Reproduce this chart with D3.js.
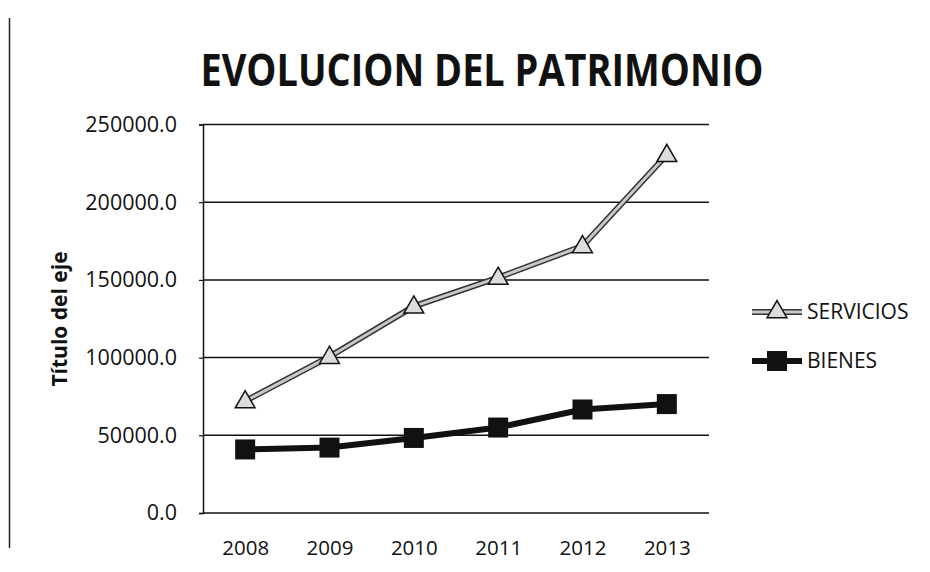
<!DOCTYPE html>
<html><head><meta charset="utf-8">
<script src="https://cdn.jsdelivr.net/npm/d3@7/dist/d3.min.js"></script>
<style>body{margin:0;background:#fff}svg{display:block}</style>
</head><body>
<svg id="c" width="930" height="572"></svg>
<script>
const years = ["2008","2009","2010","2011","2012","2013"];
const servicios = [72000, 100600, 133000, 151500, 171800, 230500];
const bienes = [40900, 42100, 48300, 55000, 66600, 70100];
const yTicks = [0, 50000, 100000, 150000, 200000, 250000];
const seriesNames = ["SERVICIOS", "BIENES"];
const titleText = "EVOLUCION DEL PATRIMONIO";
const axisTitle = "Título del eje";

const svg = d3.select("#c");
const font = "'Open Sans', 'Liberation Sans', sans-serif";
const m = {left: 203, right: 709, top: 124.5, bottom: 513};

const x = d3.scalePoint().domain(years).range([m.left, m.right]).padding(0.5);
const y = d3.scaleLinear().domain([0, 250000]).range([m.bottom, m.top]);

// left border line
svg.append("line").attr("x1", 9.5).attr("x2", 9.5).attr("y1", 18).attr("y2", 548)
  .attr("stroke", "#222").attr("stroke-width", 1.5);

// title
svg.append("text").attr("x", 482).attr("y", 86).attr("text-anchor", "middle")
  .attr("font-family", font).attr("font-weight", "bold").attr("font-size", 44)
  .attr("textLength", 563).attr("lengthAdjust", "spacingAndGlyphs")
  .attr("fill", "#111").text(titleText);

// gridlines
svg.append("g").selectAll("line").data(yTicks.filter(d => d > 0)).join("line")
  .attr("x1", m.left).attr("x2", m.right)
  .attr("y1", d => y(d)).attr("y2", d => y(d))
  .attr("stroke", "#111").attr("stroke-width", 1.5);

// y axis
const yAxis = svg.append("g").attr("transform", `translate(${m.left},0)`)
  .call(d3.axisLeft(y).tickValues(yTicks).tickFormat(d3.format(".1f")).tickSize(4).tickPadding(22));
yAxis.select(".domain").attr("stroke", "#111").attr("stroke-width", 1.5);
yAxis.selectAll(".tick line").attr("stroke", "#111").attr("stroke-width", 1.2);
yAxis.selectAll("text").attr("font-family", font).attr("font-size", 21.5).attr("fill", "#111");

// x axis
const xAxis = svg.append("g").attr("transform", `translate(0,${m.bottom})`)
  .call(d3.axisBottom(x).tickSize(0).tickPadding(27));
xAxis.select(".domain").attr("d", `M${m.left},0H${m.right}`).attr("stroke", "#111").attr("stroke-width", 1.5);
xAxis.selectAll("text").attr("font-family", font).attr("font-size", 20.5).attr("fill", "#111");

// axis title
svg.append("text").attr("transform", "translate(67,319) rotate(-90)")
  .attr("text-anchor", "middle").attr("font-family", font).attr("font-weight", "bold")
  .attr("font-size", 21).attr("fill", "#111").text(axisTitle);

const line = d3.line().x((d, i) => x(years[i])).y(d => y(d));

// SERVICIOS
svg.append("path").datum(servicios).attr("d", line).attr("fill", "none")
  .attr("stroke", "#333").attr("stroke-width", 6);
svg.append("path").datum(servicios).attr("d", line).attr("fill", "none")
  .attr("stroke", "#c8c8c8").attr("stroke-width", 3);
const tri = d3.symbol().type(d3.symbolTriangle).size(170);
svg.append("g").selectAll("path").data(servicios).join("path")
  .attr("d", tri).attr("transform", (d, i) => `translate(${x(years[i])},${y(d) + 1})`)
  .attr("fill", "#dcdcdc").attr("stroke", "#111").attr("stroke-width", 1.5);

// BIENES
svg.append("path").datum(bienes).attr("d", line).attr("fill", "none")
  .attr("stroke", "#111").attr("stroke-width", 6);
svg.append("g").selectAll("rect").data(bienes).join("rect")
  .attr("x", (d, i) => x(years[i]) - 10).attr("y", d => y(d) - 10)
  .attr("width", 20).attr("height", 20).attr("fill", "#111");

// legend
const lg = svg.append("g");
const ly = [312, 361];
lg.append("line").attr("x1", 752).attr("x2", 802).attr("y1", ly[0]).attr("y2", ly[0])
  .attr("stroke", "#333").attr("stroke-width", 6);
lg.append("line").attr("x1", 752).attr("x2", 802).attr("y1", ly[0]).attr("y2", ly[0])
  .attr("stroke", "#c8c8c8").attr("stroke-width", 3);
lg.append("path").attr("d", tri).attr("transform", `translate(777,${ly[0]})`)
  .attr("fill", "#dcdcdc").attr("stroke", "#111").attr("stroke-width", 1.5);
lg.append("line").attr("x1", 752).attr("x2", 802).attr("y1", ly[1]).attr("y2", ly[1])
  .attr("stroke", "#111").attr("stroke-width", 6);
lg.append("rect").attr("x", 767).attr("y", ly[1] - 10).attr("width", 20).attr("height", 20).attr("fill", "#111");
lg.selectAll("text").data(seriesNames).join("text")
  .attr("x", 807).attr("y", (d, i) => ly[i]).attr("dy", "0.35em")
  .attr("font-family", font).attr("font-size", 21).attr("fill", "#111").text(d => d);
</script>
</body></html>
